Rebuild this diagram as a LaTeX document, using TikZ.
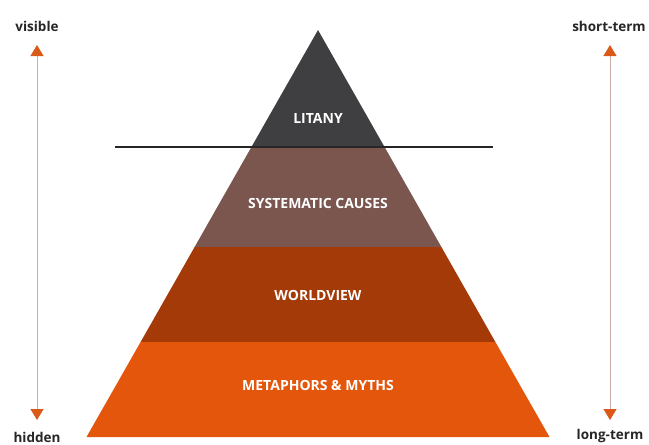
\documentclass[tikz,border=0pt]{standalone}
\usepackage{fontspec}
\setmainfont{Open Sans}
\usetikzlibrary{arrows.meta}
\definecolor{litanygrey}{RGB}{63, 63, 65}
\definecolor{causebrown}{RGB}{122, 86, 79}
\definecolor{viewrust}{RGB}{163, 58, 8}
\definecolor{mythorange}{RGB}{228, 86, 12}
\definecolor{tiporange}{RGB}{218, 88, 24}
\definecolor{stemgrey}{RGB}{205, 172, 164}
\tikzset{
  layertext/.style={text=white, font=\bfseries\fontsize{14}{16}\selectfont},
  sidetext/.style={text=black!85, font=\bfseries\fontsize{13.5}{15}\selectfont},
  sidearrow/.style={draw=stemgrey, line width=0.8pt,
    {Triangle[length=11pt,width=13pt,color=tiporange]}-{Triangle[length=11pt,width=13pt,color=tiporange]}}
}

\begin{document}
\begin{tikzpicture}[x=1pt, y=-1pt]
  \useasboundingbox (0,0) rectangle (649,445);
  % pyramid layers
  \fill[litanygrey] (318,30) -- (384,146) -- (252,146) -- cycle;
  \fill[causebrown] (252,146) -- (384,146) -- (441.4,247) -- (194.6,247) -- cycle;
  \fill[viewrust] (194.6,247) -- (441.4,247) -- (495.4,342) -- (140.6,342) -- cycle;
  \fill[mythorange] (140.6,342) -- (495.4,342) -- (549.5,437) -- (86.5,437) -- cycle;
  \node[layertext] (litany) at (318,118) {LITANY};
  \node[layertext] (causes) at (318,203) {SYSTEMATIC CAUSES};
  \node[layertext] (view) at (318,295) {WORLDVIEW};
  \node[layertext] (myths) at (318,385) {METAPHORS \& MYTHS};
  % waterline
  \coordinate (w1) at (115,146.5);
  \coordinate (w2) at (493,146.5);
  \draw[line width=2pt, black!85] (w1) -- (w2);
  % side labels
  \node[sidetext] (visible) at (37,26) {visible};
  \node[sidetext] (hidden) at (37,437) {hidden};
  \node[sidetext] (short) at (609,26) {short-term};
  \node[sidetext] (long) at (610,436) {long-term};
  \coordinate (l1) at (37,45);
  \coordinate (l2) at (37,420);
  \coordinate (r1) at (610,45);
  \coordinate (r2) at (610,420);
  \foreach \from/\to in {l1/l2, r1/r2}
    \draw[sidearrow] (\from) -- (\to);
\end{tikzpicture}
\end{document}
